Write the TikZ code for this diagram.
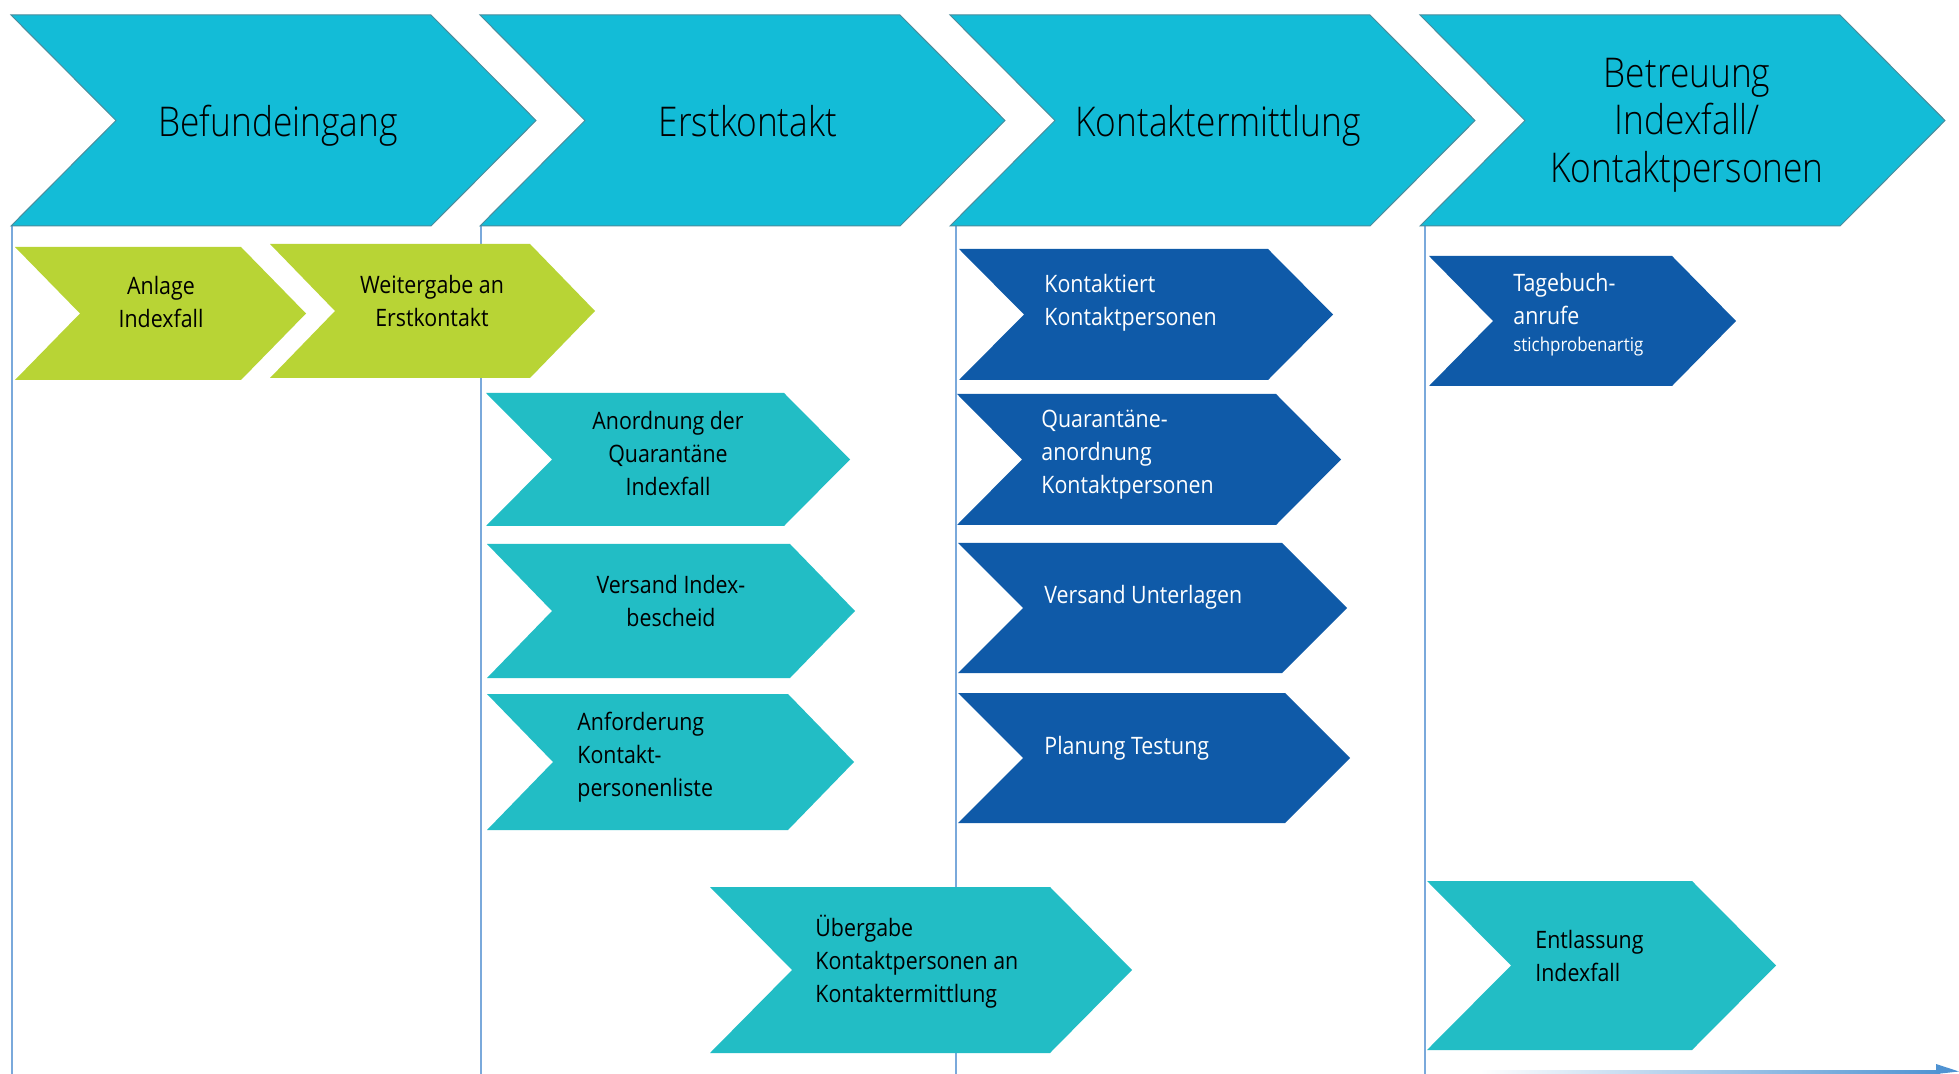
\documentclass[tikz,border=0pt]{standalone}
\usepackage{fontspec}
\setmainfont{Open Sans}[FakeStretch=0.89]
\newfontfamily\headfont{Open Sans Light}[FakeStretch=0.86]
\definecolor{hdrfill}{HTML}{13BCD7}
\definecolor{hdredge}{HTML}{4A8C9C}
\definecolor{tealfill}{HTML}{22BDC5}
\definecolor{bluefill}{HTML}{0F5AA8}
\definecolor{greenfill}{HTML}{B8D435}
\definecolor{lanecol}{HTML}{7AA9DB}
\definecolor{arrowcol}{HTML}{4F93D2}

% chevron: style, left x, top y, shoulder x, bottom y, point depth
\newcommand{\chev}[6]{%
  \path[#1] (#2,#3) -- (#4,#3) -- ({#4+#6},{(#3+#5)/2}) -- (#4,#5)
    -- (#2,#5) -- ({#2+#6},{(#3+#5)/2}) -- cycle;}

\tikzset{
  hdr/.style={fill=hdrfill, draw=hdredge, line width=0.5pt},
  tealbox/.style={fill=tealfill},
  bluebox/.style={fill=bluefill},
  greenbox/.style={fill=greenfill},
  lane/.style={draw=lanecol, line width=0.7pt},
  htext/.style={font=\headfont\fontsize{20.5}{23.75}\selectfont, align=center, inner sep=0pt, text=black},
  stext/.style={font=\fontsize{12}{16.5}\selectfont, inner sep=0pt, text=black},
  wtext/.style={stext, text=white},
  ltext/.style={anchor=west, align=left},
  ctext/.style={align=center},
}

\begin{document}
\begin{tikzpicture}[x=0.5pt,y=-0.5pt]
\useasboundingbox (0,0) rectangle (1959,1074);
\fill[white] (0,0) rectangle (1959,1074);

% phase lanes
\coordinate (l1t) at (12,226);   \coordinate (l1b) at (12,1074);
\coordinate (l2t) at (481,226);  \coordinate (l2b) at (481,1074);
\coordinate (l3t) at (956,226);  \coordinate (l3b) at (956,1074);
\coordinate (l4t) at (1425,226); \coordinate (l4b) at (1425,1074);
\draw[lane] (l1t) -- (l1b);
\draw[lane] (l2t) -- (l2b);
\draw[lane] (l3t) -- (l3b);
\draw[lane] (l4t) -- (l4b);

% time axis
\shade[left color=white, right color=arrowcol] (1480,1070) rectangle (1940,1073);
\fill[arrowcol] (1936,1064) -- (1959,1071.5) -- (1936,1074) -- cycle;

% phase headers
\chev{hdr}{11}{15}{431}{226}{105}
\chev{hdr}{480}{15}{900}{226}{105}
\chev{hdr}{950}{15}{1370}{226}{105}
\chev{hdr}{1420}{15}{1840}{226}{105}
\node[htext, anchor=base] (h1) at (278,137) {Befundeingang};
\node[htext, anchor=base] (h2) at (748,137) {Erstkontakt};
\node[htext, anchor=base] (h3) at (1218,137) {Kontaktermittlung};
\node[htext] (h4) at (1687,125) {Betreuung\\Indexfall/\\Kontaktpersonen};

% Befundeingang
\chev{greenbox}{15}{247}{241}{380}{65}
\chev{greenbox}{270}{244}{530}{378}{65}
\node[stext,ctext] (g1) at (161,302) {Anlage\\Indexfall};
\node[stext,ctext] (g2) at (432,301) {Weitergabe an\\Erstkontakt};

% Erstkontakt
\chev{tealbox}{486}{393}{784}{526}{66}
\chev{tealbox}{487}{544}{790}{678}{65}
\chev{tealbox}{487}{694}{788}{830}{66}
\chev{tealbox}{710}{887}{1050}{1053}{82}
\node[stext,ctext] (q1) at (668,454) {Anordnung der\\Quarantäne\\Indexfall};
\node[stext,ctext] (q2) at (671,601) {Versand Index-\\bescheid};
\node[stext,ltext] (q3) at (577,757) {Anforderung\\Kontakt-\\personenliste};
\node[stext,ltext] (u1) at (815,962) {Übergabe\\Kontaktpersonen an\\Kontaktermittlung};

% Kontaktermittlung
\chev{bluebox}{959}{249}{1268}{380}{65}
\chev{bluebox}{957}{394}{1276}{525}{65}
\chev{bluebox}{958}{543}{1282}{673}{65}
\chev{bluebox}{958}{693}{1285}{823}{65}
\node[wtext,ltext] (d1) at (1044,303) {Kontaktiert\\Kontaktpersonen};
\node[wtext,ltext] (d2) at (1041,455) {Quarantäne-\\anordnung\\Kontaktpersonen};
\node[wtext,ltext] (d3) at (1044,597) {Versand Unterlagen};
\node[wtext,ltext] (d4) at (1044,748) {Planung Testung};

% Betreuung
\chev{bluebox}{1429}{256}{1672}{386}{64}
\chev{tealbox}{1427}{881}{1692}{1050}{84}
\node[wtext,ltext] (t1) at (1513,315) {Tagebuch-\\anrufe\\[-3pt]{\fontsize{9.5}{11}\selectfont stichprobenartig}};
\node[stext,ltext] (e1) at (1535,956) {Entlassung\\Indexfall};
\end{tikzpicture}
\end{document}
